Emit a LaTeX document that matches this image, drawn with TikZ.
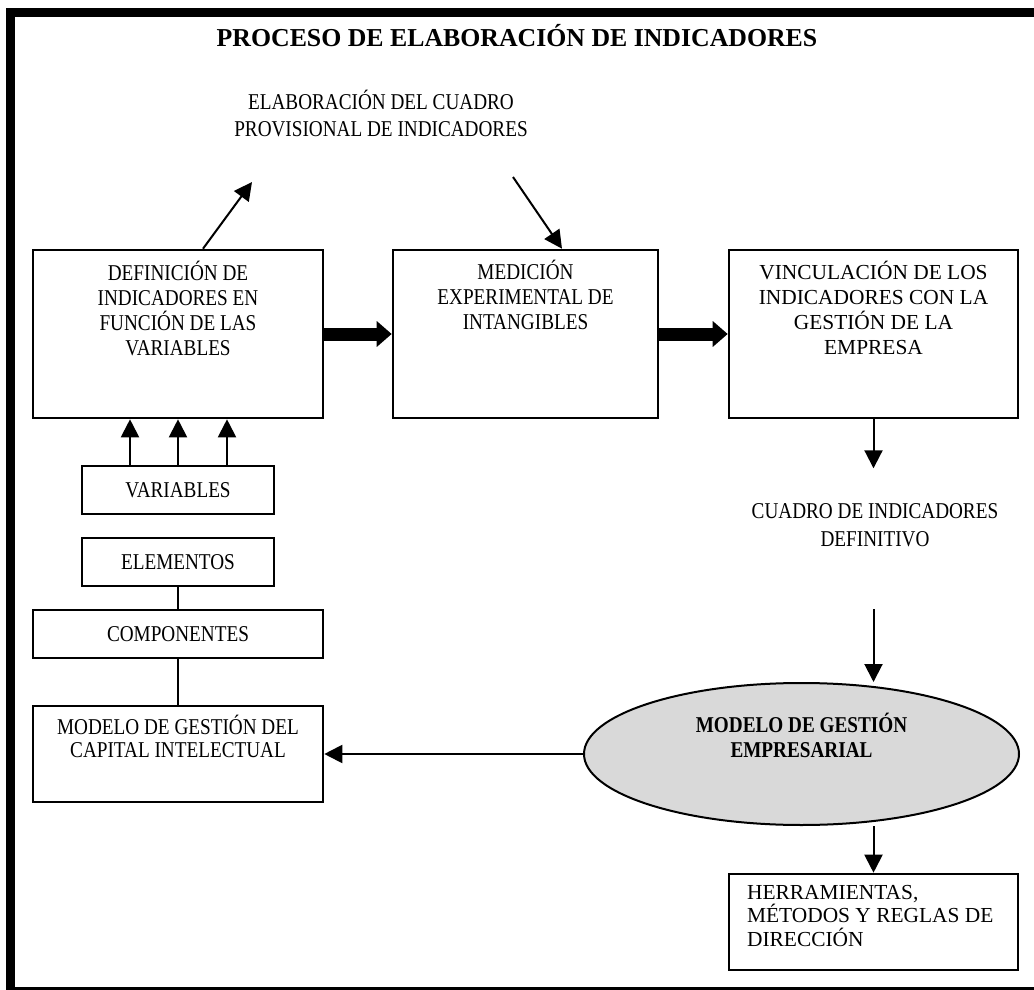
\documentclass[tikz,border=0pt]{standalone}
\usepackage{fontspec}
\setmainfont{Liberation Serif}
\newfontfamily\cambria{Liberation Serif}[FakeStretch=0.85]
\usetikzlibrary{arrows.meta,positioning,shapes.geometric}
\definecolor{ElipseGris}{HTML}{D9D9D9}
\newcommand{\fuenteC}{\cambria\fontsize{11.3}{12.5}\selectfont}
\newcommand{\fuenteT}{\fontsize{10.7}{12.5}\selectfont}
\tikzset{
  caja/.style={draw,line width=1.3pt,inner sep=0pt,font=\fuenteC},
  rotulo/.style={inner sep=0pt,align=center,font=\fuenteC},
  flecha/.style={-{Triangle[length=9pt,width=9pt]},line width=1pt},
  flechagruesa/.style={-{Triangle[length=7.5pt,width=12.5pt]},line width=6.5pt},
  enlace/.style={line width=1pt}
}

\begin{document}
\begin{tikzpicture}[x=0.5pt,y=-0.5pt]
  \useasboundingbox (0,0) rectangle (1034,990);
  % Outer frame, cut by the page on the right and at the bottom.
  \begin{scope}
    \clip (0,0) rectangle (1034,990);
    \draw[line width=4.5pt] (10,12.5) rectangle (1044,991.5);
  \end{scope}

  \node[anchor=base,inner sep=0pt,font=\fontsize{12.9}{15}\selectfont\bfseries]
    (titulo) at (517,47) {PROCESO DE ELABORACIÓN DE INDICADORES};
  \node[rotulo,anchor=north,font=\cambria\fontsize{11.3}{13.5}\selectfont]
    (elab-prov) at (381,90) {ELABORACIÓN DEL CUADRO\\PROVISIONAL DE INDICADORES};

  % Upper row of process boxes.
  \node[caja,minimum width=145pt,minimum height=84pt] (defin) at (178,334) {};
  \node[rotulo,below=6pt of defin.north] (defin-txt)
    {DEFINICIÓN DE\\INDICADORES EN\\FUNCIÓN DE LAS\\VARIABLES};
  \node[caja,minimum width=132.5pt,minimum height=84pt] (medic) at (525.5,334) {};
  \node[rotulo,below=5.5pt of medic.north] (medic-txt)
    {MEDICIÓN\\EXPERIMENTAL DE\\INTANGIBLES};
  \node[caja,minimum width=144.5pt,minimum height=84pt] (vincul) at (873.5,334) {};
  \node[rotulo,font=\fuenteT,below=6pt of vincul.north] (vincul-txt)
    {VINCULACIÓN DE LOS\\INDICADORES CON LA\\GESTIÓN DE LA\\EMPRESA};

  % Left column.
  \node[caja,minimum width=96pt,minimum height=24pt] (variab) at (178,490) {VARIABLES};
  \node[caja,minimum width=96pt,minimum height=24pt] (elem) at (178,562) {ELEMENTOS};
  \node[caja,minimum width=145pt,minimum height=24pt] (compon) at (178,634) {COMPONENTES};
  \node[caja,minimum width=145pt,minimum height=48pt] (capital) at (178,754) {};
  \node[rotulo,font=\cambria\fontsize{11.3}{11.5}\selectfont,below=5pt of capital.north]
    (capital-txt) {MODELO DE GESTIÓN DEL\\CAPITAL INTELECTUAL};

  % Right column.
  \node[rotulo,anchor=north,font=\cambria\fontsize{11.3}{14}\selectfont]
    (cuadro-def) at (875,503.5) {CUADRO DE INDICADORES\\DEFINITIVO};
  \node[ellipse,draw,line width=1pt,fill=ElipseGris,minimum width=217.5pt,
    minimum height=71pt,inner sep=0pt] (empresa) at (801.5,754) {};
  \node[rotulo,font=\cambria\bfseries\fontsize{11.3}{12.5}\selectfont,
    below=15.5pt of empresa.north] (empresa-txt) {MODELO DE GESTIÓN\\EMPRESARIAL};
  \node[caja,minimum width=144.5pt,minimum height=48pt] (herram) at (873.5,922) {};
  \node[inner sep=0pt,align=left,font=\fontsize{10.7}{11.7}\selectfont,
    below right=6pt and 9.5pt of herram.north west] (herram-txt)
    {HERRAMIENTAS,\\MÉTODOS Y REGLAS DE\\DIRECCIÓN};

  \coordinate (elab-in) at (252,182);
  \coordinate (elab-sal) at (513,177);
  \coordinate[below=24.5pt of vincul.south] (cuadro-in);
  \coordinate (cuadro-sal) at (873.5,609);
  \coordinate (empresa-sal) at (873.5,826);

  \draw[flecha] ([xshift=12.5pt]defin.north) -- (elab-in);
  \draw[flecha] (elab-sal) -- ([xshift=18.25pt]medic.north);
  \draw[flechagruesa] (defin.east) -- (medic.west);
  \draw[flechagruesa] (medic.east) -- (vincul.west);
  \foreach \dx in {-24pt,0pt,24.5pt}
    \draw[flecha] ([xshift=\dx]variab.north) -- ([xshift=\dx]defin.south);
  \draw[enlace] (elem) -- (compon);
  \draw[enlace] (compon) -- (capital);
  \draw[flecha] (vincul.south) -- (cuadro-in);
  \draw[flecha] (cuadro-sal) -- (cuadro-sal |- empresa.north);
  \draw[flecha] (empresa.west) -- (capital.east);
  \draw[flecha] (empresa-sal) -- (herram.north);
\end{tikzpicture}
\end{document}
